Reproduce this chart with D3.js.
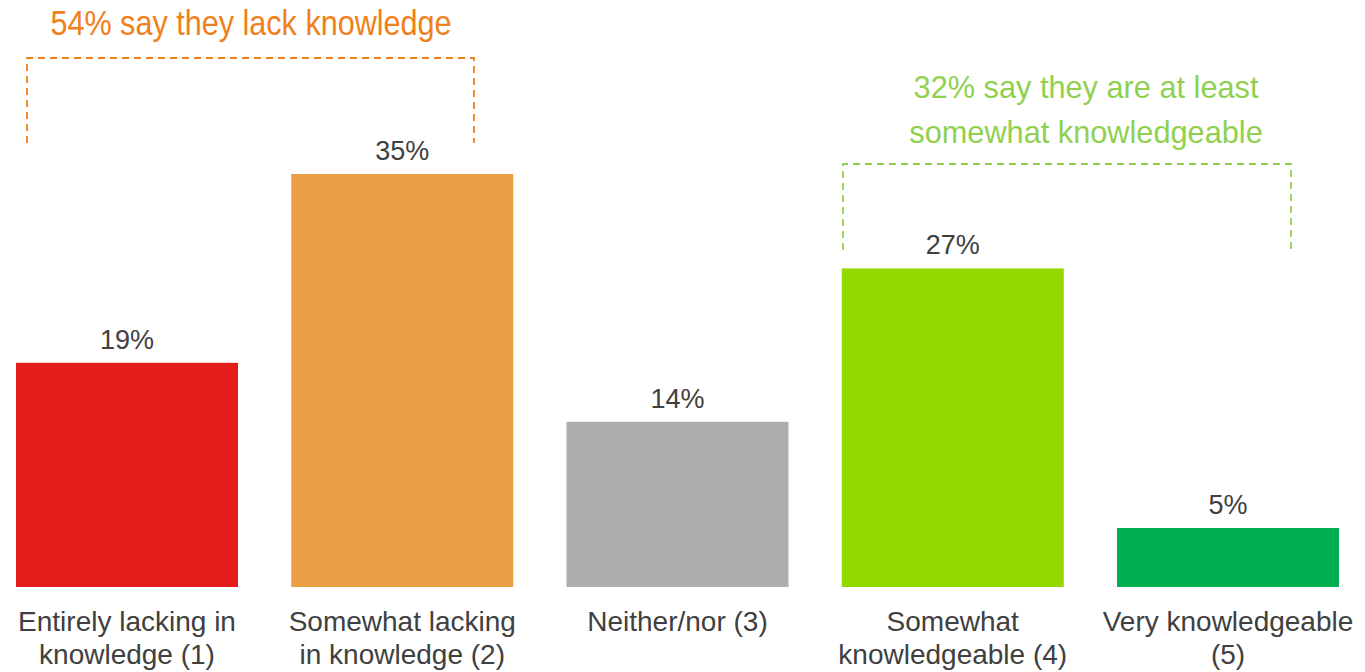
<!DOCTYPE html>
<html>
<head>
<meta charset="utf-8">
<script src="https://cdn.jsdelivr.net/npm/d3@7"></script>
<style>
  html, body { margin: 0; padding: 0; background: #ffffff; }
  svg { display: block; font-family: "Liberation Sans", Arial, sans-serif; }
</style>
</head>
<body>
<svg id="chart" width="1365" height="672"></svg>
<script>
// Self-rated knowledge, share of respondents (%)
const categories = [
  "Entirely lacking in knowledge (1)",
  "Somewhat lacking in knowledge (2)",
  "Neither/nor (3)",
  "Somewhat knowledgeable (4)",
  "Very knowledgeable (5)"
];
const categoryLines = [
  ["Entirely lacking in", "knowledge (1)"],
  ["Somewhat lacking", "in knowledge (2)"],
  ["Neither/nor (3)"],
  ["Somewhat", "knowledgeable (4)"],
  ["Very knowledgeable", "(5)"]
];
const values = [19, 35, 14, 27, 5];
const barColors = ["#e51c1c", "#eb9f45", "#aeaeae", "#93d900", "#00ae50"];

// Grouped callouts
const groupLabels = [
  ["54% say they lack knowledge"],
  ["32% say they are at least", "somewhat knowledgeable"]
];
const groupMembers = [[0, 1], [3, 4]];
const groupColors = ["#ef801a", "#8fd14f"];

const svg = d3.select("#chart");

const baseline = 587;
const barWidth = 222;
const firstLeft = 16, lastRight = 1339;
const step = (lastRight - firstLeft - barWidth) / (categories.length - 1);
const pad = (step - barWidth) / step;

const x = d3.scaleBand()
  .domain(categories)
  .range([firstLeft - (step - barWidth) / 2, lastRight + (step - barWidth) / 2])
  .paddingInner(pad)
  .paddingOuter(pad / 2);

const y = d3.scaleLinear().domain([0, 35]).range([baseline, 174]);

// Bars
svg.append("g").selectAll("rect")
  .data(values)
  .join("rect")
  .attr("x", (d, i) => x(categories[i]))
  .attr("y", d => y(d))
  .attr("width", x.bandwidth())
  .attr("height", d => baseline - y(d))
  .attr("fill", (d, i) => barColors[i]);

// Value labels
svg.append("g").selectAll("text")
  .data(values)
  .join("text")
  .attr("x", (d, i) => x(categories[i]) + x.bandwidth() / 2)
  .attr("y", d => y(d) - 14)
  .attr("text-anchor", "middle")
  .attr("font-size", 27)
  .attr("fill", "#404040")
  .text(d => d + "%");

// Category labels (bottom axis)
const xAxis = svg.append("g")
  .attr("transform", `translate(0,${baseline})`)
  .call(d3.axisBottom(x).tickSize(0).tickFormat(""));
xAxis.select(".domain").remove();
xAxis.selectAll(".tick").each(function (d, i) {
  const t = d3.select(this).append("text")
    .attr("text-anchor", "middle")
    .attr("font-size", 28)
    .attr("fill", "#404040");
  categoryLines[i].forEach((line, j) => {
    t.append("tspan").attr("x", 0).attr("y", 44 + j * 33).text(line);
  });
});

// Dashed brackets spanning the grouped bars, with callout text
const brackets = [
  { top: 58, bottom: 143, left: 27, right: 474, textY: [35], fontSize: 36, sx: 0.85, cx: 251 },
  { top: 164, bottom: 250, left: 843, right: 1291, textY: [98, 143], fontSize: 32, sx: 0.96, cx: 1086 }
];

brackets.forEach((b, gi) => {
  const g = svg.append("g");
  const path = d3.path();
  path.moveTo(b.left, b.bottom);
  path.lineTo(b.left, b.top);
  path.lineTo(b.right, b.top);
  path.lineTo(b.right, b.bottom);
  g.append("path")
    .attr("d", path.toString())
    .attr("fill", "none")
    .attr("stroke", groupColors[gi])
    .attr("stroke-width", 1.8)
    .attr("stroke-dasharray", "7,5");
  groupLabels[gi].forEach((line, j) => {
    g.append("text")
      .attr("transform", `translate(${b.cx},${b.textY[j]}) scale(${b.sx},1)`)
      .attr("text-anchor", "middle")
      .attr("font-size", b.fontSize)
      .attr("fill", groupColors[gi])
      .text(line);
  });
});
</script>
</body>
</html>
